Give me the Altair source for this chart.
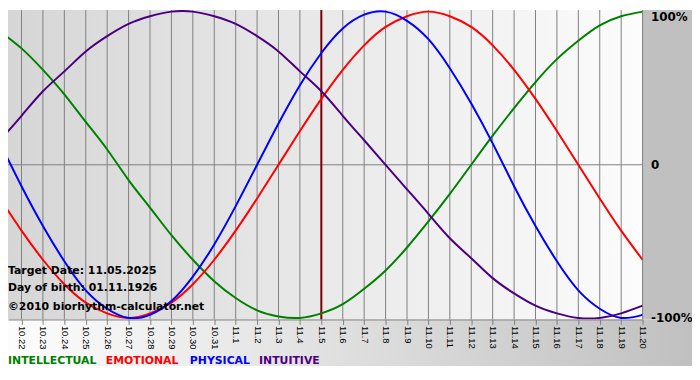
import altair as alt
import pandas as pd

# ---- data ----
day_labels = ["10.21", "10.22", "10.23", "10.24", "10.25", "10.26", "10.27", "10.28",
              "10.29", "10.30", "10.31", "11.1", "11.2", "11.3", "11.4", "11.5",
              "11.6", "11.7", "11.8", "11.9", "11.10", "11.11", "11.12", "11.13",
              "11.14", "11.15", "11.16", "11.17", "11.18", "11.19", "11.20"]
day_index = list(range(len(day_labels)))

intellectual = [0.87, 0.76, 0.62, 0.46, 0.28, 0.10, -0.10, -0.28, -0.46, -0.62, -0.76,
                -0.87, -0.95, -0.99, -1.00, -0.97, -0.91, -0.81, -0.69, -0.54, -0.37,
                -0.19, 0.00, 0.19, 0.37, 0.54, 0.69, 0.81, 0.91, 0.97, 1.00]
emotional = [-0.22, -0.43, -0.62, -0.78, -0.90, -0.97, -1.00, -0.97, -0.90, -0.78, -0.62,
             -0.43, -0.22, 0.00, 0.22, 0.43, 0.62, 0.78, 0.90, 0.97, 1.00, 0.97,
             0.90, 0.78, 0.62, 0.43, 0.22, 0.00, -0.22, -0.43, -0.62]
physical = [0.14, -0.14, -0.40, -0.63, -0.82, -0.94, -1.00, -0.98, -0.89, -0.73, -0.52,
            -0.27, 0.00, 0.27, 0.52, 0.73, 0.89, 0.98, 1.00, 0.94, 0.82, 0.63,
            0.40, 0.14, -0.14, -0.40, -0.63, -0.82, -0.94, -1.00, -0.98]
intuitive = [0.16, 0.32, 0.48, 0.61, 0.74, 0.84, 0.92, 0.97, 1.00, 1.00, 0.97,
             0.92, 0.84, 0.74, 0.61, 0.48, 0.32, 0.16, 0.00, -0.16, -0.32, -0.48,
             -0.61, -0.74, -0.84, -0.92, -0.97, -1.00, -1.00, -0.97, -0.92]

series_names = ["INTELLECTUAL", "EMOTIONAL", "PHYSICAL", "INTUITIVE"]
series_colors = ["#008000", "#ff0000", "#0000ff", "#4b0082"]
target_day = "11.5"
info_lines = ["Target Date: 11.05.2025", "Day of birth: 01.11.1926",
              "\u00a92010 biorhythm-calculator.net"]
y_ticks = [1, 0, -1]

# ---- layout ----
W, H = 642, 313
x_domain = [0.369, 30]
y_domain = [-1.01, 1.01]
info_y = [267, 284, 303]
legend_x = [0, 99, 184, 254]
legend_y = 358

rows = []
for name, vals in zip(series_names, [intellectual, emotional, physical, intuitive]):
    for d, v in zip(day_index, vals):
        rows.append({"day": d, "value": v, "series": name})
df = pd.DataFrame(rows)

xs = alt.Scale(domain=x_domain, nice=False, zero=False)
ys = alt.Scale(domain=y_domain, nice=False, zero=False)

label_expr = "[" + ",".join("'%s'" % l for l in day_labels) + "][datum.value]"
xaxis = alt.Axis(values=day_index[1:], labelExpr=label_expr, labelAngle=90,
                 labelFont="Liberation Sans", labelFontSize=9.5, labelColor="black",
                 tickColor="#808080", tickSize=5, domainColor="#808080", grid=False,
                 labelPadding=1, title=None, labelFlush=False, labelOverlap=False,
                 zindex=1)
yaxis = alt.Axis(orient="right", values=y_ticks,
                 labelExpr="datum.value == 1 ? '100%' : (datum.value == 0 ? '0' : '-100%')",
                 labelFont="DejaVu Sans", labelFontSize=12, labelFontWeight="bold",
                 labelColor="black", ticks=False, domain=False, grid=False,
                 labelPadding=8, title=None, zindex=1,
                 labelBaseline={"condition": {"test": "datum.value == 1", "value": "top"},
                                "value": "middle"})

one = pd.DataFrame({"k": [0]})

plot_bg = alt.Chart(one).mark_rect(
    fill=alt.LinearGradient(gradient="linear",
                            stops=[alt.GradientStop(color="#d6d6d6", offset=0),
                                   alt.GradientStop(color="#fcfcfc", offset=1)],
                            x1=0, x2=1, y1=0, y2=0)
).encode(x=alt.value(0), x2=alt.value(W), y=alt.value(0), y2=alt.value(H))

right_strip = alt.Chart(one).mark_rect(fill="#c0c0c0", clip=False).encode(
    x=alt.value(W), x2=alt.value(W + 50), y=alt.value(0), y2=alt.value(H))

bottom_strip = alt.Chart(one).mark_rect(
    fill=alt.LinearGradient(gradient="linear",
                            stops=[alt.GradientStop(color="#fdfdfd", offset=0),
                                   alt.GradientStop(color="#c0c0c0", offset=1)],
                            x1=0, x2=1, y1=0, y2=0),
    clip=False
).encode(x=alt.value(0), x2=alt.value(W + 50), y=alt.value(H), y2=alt.value(H + 47))

grid = alt.Chart(pd.DataFrame({"day": day_index[1:]})).mark_rule(
    color="#808080", strokeWidth=1).encode(x=alt.X("day:Q", scale=xs, axis=xaxis))

zero_line = alt.Chart(pd.DataFrame({"v": [0]})).mark_rule(
    color="#808080", strokeWidth=1).encode(y=alt.Y("v:Q", scale=ys, axis=yaxis))

target = alt.Chart(pd.DataFrame({"day": [day_labels.index(target_day)]})).mark_rule(
    color="#800000", strokeWidth=2).encode(x=alt.X("day:Q", scale=xs, axis=xaxis))

lines = alt.Chart(df).mark_line(strokeWidth=2, interpolate="natural", clip=True).encode(
    x=alt.X("day:Q", scale=xs, axis=xaxis),
    y=alt.Y("value:Q", scale=ys, axis=yaxis),
    color=alt.Color("series:N", scale=alt.Scale(domain=series_names, range=series_colors),
                    legend=None),
    order=alt.Order("day:Q"),
)

layers = [right_strip, bottom_strip, plot_bg, grid, zero_line, target, lines]

for txt, yy in zip(info_lines, info_y):
    layers.append(alt.Chart(one).mark_text(
        align="left", baseline="alphabetic", font="DejaVu Sans", fontSize=11,
        fontWeight="bold", color="black", clip=False
    ).encode(x=alt.value(0), y=alt.value(yy), text=alt.value(txt)))

for name, col, xx in zip(series_names, series_colors, legend_x):
    layers.append(alt.Chart(one).mark_text(
        align="left", baseline="alphabetic", font="DejaVu Sans", fontSize=11,
        fontWeight="bold", color=col, clip=False
    ).encode(x=alt.value(xx), y=alt.value(legend_y), text=alt.value(name)))

chart = alt.layer(*layers).properties(
    width=W, height=H,
    autosize=alt.AutoSizeParams(type="none"),
    padding={"left": 0, "top": 0, "right": 50, "bottom": 49},
    background="white",
).configure_view(stroke=None)

chart.save("out.html", embed_options={"renderer": "svg", "actions": False})
